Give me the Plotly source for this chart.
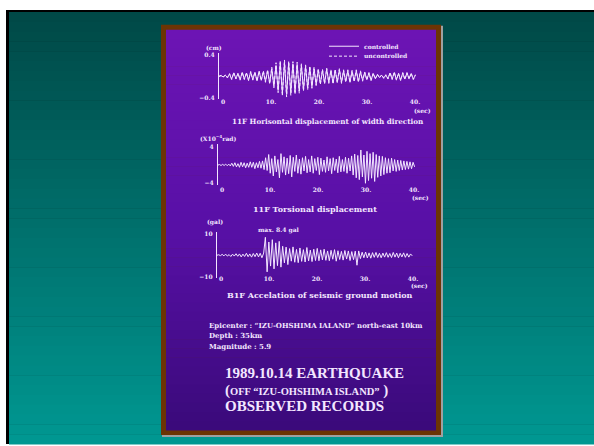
import numpy as np
import plotly.graph_objects as go

W, H = 594, 446

# ---- recorded traces (peak values, one per half cycle) ----
DT_DISP = 0.44  # s between samples, 11F horizontal displacement
disp_controlled = [
    0, 0.01, -0.01, 0.02, -0.02,
    0.04, -0.05, 0.06, -0.04, 0.05, -0.06, 0.07, -0.05, 0.06, -0.07,
    0.08, -0.06, 0.07, -0.08, 0.09, -0.07, 0.08, -0.09, 0.1, -0.12,
    0.14, -0.18, 0.2,
    -0.26, 0.24, -0.31, 0.25, -0.33, 0.24, -0.3, 0.23, -0.29, 0.22, -0.27,
    0.2, -0.24, 0.18, -0.21, 0.16, -0.19, 0.14,
    -0.15, 0.12, -0.13, 0.11, -0.12, 0.13, -0.11, 0.1, -0.12, 0.11, -0.1, 0.12,
    -0.11, 0.1, -0.09, 0.1, -0.1, 0.09, -0.08, 0.1, -0.09, 0.08, -0.07,
    0.07, -0.06, 0.06, -0.07, 0.05, -0.04, 0.03, -0.02, 0.02, -0.03, 0.02, -0.04,
    0.06, -0.05, 0.07, -0.06, 0.05, -0.07, 0.06, -0.05, 0.06, -0.04, 0.05, -0.05, 0.02,
]
disp_uncontrolled = [
    0, 0.02, -0.01, 0.02, -0.03,
    0.05, -0.06, 0.07, -0.05, 0.06, -0.07, 0.08, -0.06, 0.07, -0.08,
    0.09, -0.07, 0.08, -0.09, 0.1, -0.08, 0.1, -0.11, 0.12, -0.14,
    0.17, -0.21, 0.25,
    -0.3, 0.29, -0.36, 0.3, -0.38, 0.28, -0.35, 0.27, -0.33, 0.26, -0.31,
    0.23, -0.27, 0.21, -0.24, 0.19, -0.22, 0.17,
    -0.17, 0.14, -0.15, 0.13, -0.14, 0.15, -0.13, 0.12, -0.14, 0.13, -0.12, 0.14,
    -0.13, 0.12, -0.11, 0.12, -0.12, 0.11, -0.1, 0.12, -0.11, 0.1, -0.09,
    0.08, -0.07, 0.07, -0.08, 0.06, -0.05, 0.04, -0.03, 0.03, -0.04, 0.03, -0.05,
    0.07, -0.06, 0.08, -0.07, 0.06, -0.08, 0.07, -0.06, 0.07, -0.05, 0.06, -0.06, 0.03,
]

DT_TORS = 0.32  # s, 11F torsional displacement (x10^-4 rad)
torsion = [
    0, 0.1, -0.1, 0.15, -0.1, 0.2, -0.15, 0.2, -0.2,
    0.4, -0.3, 0.5, -0.4, 0.3, -0.5, 0.6, -0.4, 0.5, -0.6, 0.4, -0.5,
    0.7, -0.5, 0.6, -0.8, 0.5, -0.6, 0.8, -0.7, 0.9, -1.0,
    1.6, -1.2, 2.3, -1.8, 1.4, -2.4, 2.0, -1.5, 1.2, -2.8, 2.5, -1.6,
    1.8, -2.2, 1.5, -1.9, 2.1, -2.6, 1.7, -1.4, 2.2, -1.8, 1.3, -2.0,
    1.6, -1.3, 1.9, -1.7, 1.2, -1.5, 2.0, -1.8, 1.4, -1.2, 1.7, -2.1,
    1.5, -1.4, 1.1, -1.6, 1.8, -1.3, 1.4, -1.9, 1.6, -1.2, 1.3, -1.7,
    1.9, -1.5, 1.2, -1.4, 1.7, -1.8, 1.5, -1.3, 2.0, -2.2,
    2.4, -2.8, 2.1, -3.2, 3.3, -2.6, 2.2, -4.0, 3.0, -3.4, 2.5, -2.9,
    2.8, -3.6, 2.3, -2.7, 2.0, -2.4,
    1.9, -2.1, 1.6, -1.8, 1.4, -1.7, 1.5, -1.3, 1.2, -1.4, 1.1, -1.2,
    1.0, -1.1, 0.9, -1.0, 0.8, -0.9, 0.7, -0.8, 0.6, -0.4,
]

DT_ACC = 0.36  # s, B1F ground acceleration (gal)
accel = [
    0, 0.2, -0.2, 0.4, -0.3, 0.5, -0.4, 0.3, -0.6, 0.5, -0.4, 0.7, -0.5, 0.6,
    -0.8, 0.5, -0.6, 0.9, -0.7, 0.6, -0.9, 0.8, -0.7, 1.0, -0.8, 0.9, -1.2, 1.0,
    8.4, -7.8,
    6.2, -5.1, 7.3, -6.4, 5.8, -4.9, 6.5, -5.6,
    4.2, -3.6, 3.8, -4.4, 3.1, -2.8, 3.9, -3.3, 2.7, -3.5, 3.4, -2.9,
    2.6, -3.2, 3.6, -2.7, 2.4, -3.0, 2.8, -2.5, 3.2, -2.6,
    2.5, -2.2, 2.8, -2.4, 2.0, -2.6, 2.3, -1.9, 2.6, -2.8, 2.1, -2.0,
    1.8, -2.3, 2.2, -1.8, 2.0, -2.5, 1.7, -2.1, 1.9, -4.7, 2.0,
    -1.6, 1.4, -1.2, 1.5, -1.3, 1.1, -1.4, 1.2, -1.0, 1.3, -1.1, 0.9,
    -1.2, 1.0, -0.9, 1.2, -1.0, 0.8, -1.1, 1.3, -0.9, 1.0, -1.2, 0.9,
    -0.8, 1.1, -1.0, 0.8, -0.9, 0.6, -0.3,
]

time_ticks = [0, 10, 20, 30, 40]
time_labels = ["0", "10.", "20.", "30.", "40."]
disp_ticks, disp_labels = [-0.4, 0.4], ["\u22120.4", "0.4"]
tors_ticks, tors_labels = [-4, 4], ["\u22124", "4"]
acc_ticks, acc_labels = [-10, 10], ["\u221210", "10"]
peak_acc = max(accel)

INK = "#f3e6ff"
SMALL = "DejaVu Serif"
BIG = "Liberation Serif"


def px(x):
    return x / W


def py(y):
    return 1 - y / H


def mix(c1, c2, f):
    a = [int(c1[i:i + 2], 16) for i in (1, 3, 5)]
    b = [int(c2[i:i + 2], 16) for i in (1, 3, 5)]
    return "#" + "".join(f"{round(a[k] + (b[k] - a[k]) * f):02x}" for k in range(3))


def times(values, dt):
    return np.arange(len(values)) * dt


fig = go.Figure()
line_style = dict(color=INK, width=1)
fig.add_trace(go.Scatter(x=times(disp_uncontrolled, DT_DISP), y=disp_uncontrolled,
                         mode="lines", name="uncontrolled", legend="legend2",
                         line=dict(color=INK, width=1, dash="3px,2px"),
                         xaxis="x", yaxis="y"))
fig.add_trace(go.Scatter(x=times(disp_controlled, DT_DISP), y=disp_controlled,
                         mode="lines", name="controlled", legend="legend",
                         line=line_style, xaxis="x", yaxis="y"))
fig.add_trace(go.Scatter(x=times(torsion, DT_TORS), y=torsion, mode="lines",
                         line=line_style, showlegend=False, xaxis="x2", yaxis="y2"))
fig.add_trace(go.Scatter(x=times(accel, DT_ACC), y=accel, mode="lines",
                         line=line_style, showlegend=False, xaxis="x3", yaxis="y3"))

tick_font = dict(family=SMALL, size=6, color=INK, weight="bold")
SEC_PER_PX = 1 / 4.8


def x_axis(left, label_y):
    return dict(domain=[px(left), px(left + 202)], range=[0, 202 * SEC_PER_PX],
                anchor="free", position=py(label_y), showline=False,
                showgrid=False, zeroline=False, ticks="",
                tickvals=time_ticks, ticktext=time_labels, tickfont=tick_font,
                ticklabelshift=4, ticklabelstandoff=0)


def y_axis(top, bottom, zero_y, px_per_unit, tv, tt, xname):
    lo = (zero_y - bottom) / px_per_unit
    hi = (zero_y - top) / px_per_unit
    return dict(domain=[py(bottom), py(top)], range=[lo, hi], anchor=xname,
                showline=True, linecolor=INK, linewidth=1.2, showgrid=False,
                zeroline=False, ticks="", tickvals=tv, ticktext=tt,
                tickfont=tick_font, ticklabelstandoff=2)


def legend_box(top_y):
    return dict(x=px(324), y=py(top_y), xanchor="left", yanchor="top",
                bgcolor="rgba(0,0,0,0)", borderwidth=0,
                font=dict(family=SMALL, size=6, color=INK, weight="bold"),
                itemwidth=30, tracegroupgap=0)


# ---- background: slide, frame and panel ----
shapes = [dict(type="rect", xref="paper", yref="paper", x0=px(6), x1=1.0,
               y0=0.0, y1=py(8), fillcolor="#000000", line_width=0, layer="below")]
n = 44
top, bottom = 10, H
for i in range(n):
    y0 = top + (bottom - top) * i / n
    y1 = top + (bottom - top) * (i + 1) / n
    shapes.append(dict(type="rect", xref="paper", yref="paper", x0=px(9), x1=1.0,
                       y0=py(y1 + 0.5), y1=py(y0), line_width=0, layer="below",
                       fillcolor=mix("#004846", "#009892", (i + 0.5) / n)))
shapes.append(dict(type="rect", xref="paper", yref="paper", x0=px(162), x1=px(443),
                   y0=py(439), y1=py(24), fillcolor="#a0a0a0", line_width=0, layer="below"))
shapes.append(dict(type="rect", xref="paper", yref="paper", x0=px(161), x1=px(441),
                   y0=py(437), y1=py(23), fillcolor="#6c3404", line_width=0, layer="below"))
top, bottom = 28, 432
for i in range(n):
    y0 = top + (bottom - top) * i / n
    y1 = top + (bottom - top) * (i + 1) / n
    f = (i + 0.5) / n
    col = mix("#6c14b4", "#5810a6", f * 2) if f < 0.5 else mix("#5810a6", "#3a0a7a", f * 2 - 1)
    shapes.append(dict(type="rect", xref="paper", yref="paper", x0=px(166), x1=px(436),
                       y0=py(y1 + 0.5), y1=py(y0), line_width=0, layer="below",
                       fillcolor=col))


def note(text, x, y, size=6, family=SMALL, xanchor="center", bold=True):
    return dict(text=f"<b>{text}</b>" if bold else text, x=px(x), y=py(y),
                xref="paper", yref="paper", showarrow=False, xanchor=xanchor,
                yanchor="middle", font=dict(family=family, size=size, color=INK))


annotations = [
    note("(cm)", 214, 46),
    note("(sec)", 422, 109),
    note("11F Horisontal displacement of width direction", 328, 121, size=7.2),
    note("(X10<sup>\u22124</sup>rad)", 218, 137),
    note("(sec)", 420, 197),
    note("11F Torsional displacement", 315, 209, size=8),
    note("(gal)", 215, 222),
    note(f"max. {peak_acc} gal", 279, 230),
    note("(sec)", 419, 286),
    note("B1F Accelation of seismic ground motion", 320, 296, size=8),
    note("Epicenter : \u201cIZU-OHSHIMA IALAND\u201d north-east 10km", 207, 326, size=7, xanchor="left"),
    note("Depth : 35km", 207, 337, size=7, xanchor="left"),
    note("Magnitude : 5.9", 207, 348, size=7, xanchor="left"),
    note("1989.10.14 EARTHQUAKE", 223, 374, size=15, family=BIG, xanchor="left"),
    note("(<span style='font-size:10.5px'>OFF \u201cIZU-OHSHIMA ISLAND\u201d</span> )", 223, 392,
         size=15, family=BIG, xanchor="left"),
    note("OBSERVED RECORDS", 223, 408, size=15, family=BIG, xanchor="left"),
]

fig.update_layout(
    width=W, height=H, margin=dict(l=0, r=0, t=0, b=0),
    paper_bgcolor="#ffffff", plot_bgcolor="rgba(0,0,0,0)",
    xaxis=x_axis(219, 96),
    yaxis=y_axis(51, 98, 75, 55, disp_ticks, disp_labels, "x"),
    xaxis2=x_axis(218, 185),
    yaxis2=y_axis(143, 185, 164.5, 4.6, tors_ticks, tors_labels, "x2"),
    xaxis3=x_axis(217, 274),
    yaxis3=y_axis(232, 279, 255.5, 2.15, acc_ticks, acc_labels, "x3"),
    shapes=shapes, annotations=annotations,
    showlegend=True,
    legend=legend_box(30),
    legend2=legend_box(40),
)

fig.write_html("out.html")
